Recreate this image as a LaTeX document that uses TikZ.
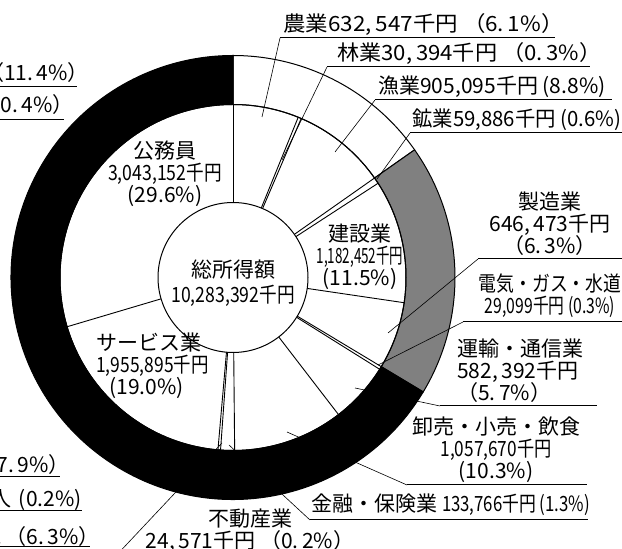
\documentclass[tikz,border=0pt]{standalone}
\usepackage{fontspec}
\setmainfont{Noto Sans CJK JP}
\usepackage{graphicx}
\newcommand{\nar}[2][0.8]{\scalebox{#1}[1]{#2}}
\newcommand{\wpct}[1]{（#1\%）}

\begin{document}
\begin{tikzpicture}[x=1pt,y=1pt,semithick,font=\fontsize{21}{22}\selectfont]
	\tikzstyle{lbl}=[inner sep=0pt,text=black]
	\tikzstyle{lead}=[line width=0.6pt]
	\tikzstyle{uline}=[line width=1pt]
	\tikzstyle{edge}=[line width=0.9pt]
	\useasboundingbox (0,0) rectangle (622,549);
	\clip (0,0) rectangle (622,549);

	\coordinate (c) at (233,271.5);

	% outer ring: primary / secondary / tertiary
	\begin{scope}[shift={(c)},line width=1pt]
		\filldraw[fill=white] (90:222) arc[start angle=90,end angle=35.106,radius=222]
			-- (35.106:173) arc[start angle=35.106,end angle=90,radius=173] -- cycle;
		\filldraw[fill=black!50] (35.106:222) arc[start angle=35.106,end angle=-31.017,radius=222]
			-- (-31.017:173) arc[start angle=-31.017,end angle=35.106,radius=173] -- cycle;
		\filldraw[fill=black] (-31.017:222) arc[start angle=-31.017,end angle=-270,radius=222]
			-- (-270:173) arc[start angle=-270,end angle=-31.017,radius=173] -- cycle;
		% inner ring
		\draw (0,0) circle[radius=173];
		\foreach \a in {0,22.144,23.208,54.894,56.990,98.385,121.017,122.036,142.424,179.451,184.134,184.994,253.466}
			\draw[edge] ({90-\a}:75) -- ({90-\a}:173);
		\filldraw[fill=white] (0,0) circle[radius=75];
	\end{scope}

	% centre
	\node[lbl,align=center] (total) at (233,266) {総所得額\\[3pt]\nar[0.84]{10,283,392千円}};

	% labels inside the ring
	\node[lbl,align=center] (komu) at (165,375) {公務員\\\nar[0.84]{3,043,152千円}\\(29.6\%)};
	\node[lbl,align=center] (kensetsu) at (360,292) {建設業\\\nar[0.64]{1,182,452千円}\\(11.5\%)};
	\node[lbl,align=left,anchor=west] (service) at (96,183) {サービス業\\\nar[0.83]{1,955,895千円}\\\hspace{13pt}(19.0\%)};

	% labels outside, with underline and leader
	\node[lbl,anchor=west] (nogyo) at (283,524) {\nar[1.07]{農業632,\,547千円 \wpct{6.\,1}}};
	\coordinate (nogyoA) at (280,511);
	\coordinate (nogyoB) at (555,511);
	\coordinate (nogyoP) at (262,432);

	\node[lbl,anchor=west] (ringyo) at (337,495) {\nar[1.055]{林業30,\,394千円 \wpct{0.\,3}}};
	\coordinate (ringyoA) at (327,482);
	\coordinate (ringyoB) at (590,482);
	\coordinate (ringyoP) at (282,389);

	\node[lbl,anchor=west] (gyogyo) at (378,462) {漁業905,095千円 (8.8\%)};
	\coordinate (gyogyoA) at (375,449);
	\coordinate (gyogyoB) at (612,449);
	\coordinate (gyogyoP) at (335,397);

	\node[lbl,anchor=west] (kogyo) at (412,429) {\nar[0.97]{鉱業59,886千円 (0.6\%)}};
	\coordinate (kogyoA) at (410,416);
	\coordinate (kogyoB) at (625,416);
	\coordinate (kogyoP) at (377,370);

	\node[lbl,align=center] (seizo) at (550,325) {製造業\\646,\,473千円\\\wpct{6.\,3}};
	\coordinate (seizoA) at (478,290);
	\coordinate (seizoB) at (625,290);
	\coordinate (seizoP) at (388,216);

	\node[lbl,align=center] (denki) at (550,253) {\nar[0.85]{電気・ガス・水道}\\\nar[0.75]{29,099千円 (0.3\%)}};
	\coordinate (denkiA) at (463,227);
	\coordinate (denkiB) at (625,227);
	\coordinate (denkiP) at (378,184);

	\node[lbl,align=left,anchor=west] (unyu) at (457,178) {運輸・通信業\\582,\,392千円\\\wpct{5.\,7}};
	\coordinate (unyuA) at (440,143);
	\coordinate (unyuB) at (597,143);
	\coordinate (unyuP) at (355,161);

	\node[lbl,align=center] (orosi) at (496,99) {卸売・小売・飲食\\\nar[0.82]{1,057,670千円}\\(10.3\%)};
	\coordinate (orosiA) at (407,64);
	\coordinate (orosiB) at (587,64);
	\coordinate (orosiP) at (287,117);

	\node[lbl,anchor=west] (kinyu) at (311,44) {金融・保険業 \nar[0.8]{133,766千円 (1.3\%)}};
	\coordinate (kinyuA) at (310,29);
	\coordinate (kinyuB) at (588,29);
	\coordinate (kinyuP) at (229,104);

	\node[lbl,align=center] (fudosan) at (250,18) {不動産業\\24,\,571千円 \wpct{0.\,2}};
	\coordinate (fudosanA) at (112,-11);
	\coordinate (fudosanP) at (222,106);

	\foreach \n in {nogyo,ringyo,gyogyo,kogyo,seizo,denki,unyu,orosi,kinyu}{
		\draw[uline] (\n A) -- (\n B);
		\draw[lead] (\n A) -- (\n P);
	}
	\draw[lead] (fudosanA) -- (fudosanP);

	% cut-off labels of the neighbouring chart
	\node[lbl,anchor=east] (left1) at (89,476) {\wpct{11.\,4}};
	\node[lbl,anchor=east] (left2) at (74,444) {\wpct{0.\,4}};
	\node[lbl,anchor=east] (left3) at (70,84) {\wpct{7.\,9}};
	\node[lbl,anchor=east] (left4) at (82,49) {人\hspace{8pt}(0.2\%)};
	\node[lbl,anchor=east] (left5) at (100,12) {.\,\wpct{6.\,3}};
	\foreach \n/\y/\x in {leftA/462/77,leftB/429/64,leftC/72/60,leftD/38/82,leftE/2/90}{
		\coordinate (\n s) at (-5,\y);
		\coordinate (\n e) at (\x,\y);
		\draw[uline] (\n s) -- (\n e);
	}
\end{tikzpicture}
\end{document}
